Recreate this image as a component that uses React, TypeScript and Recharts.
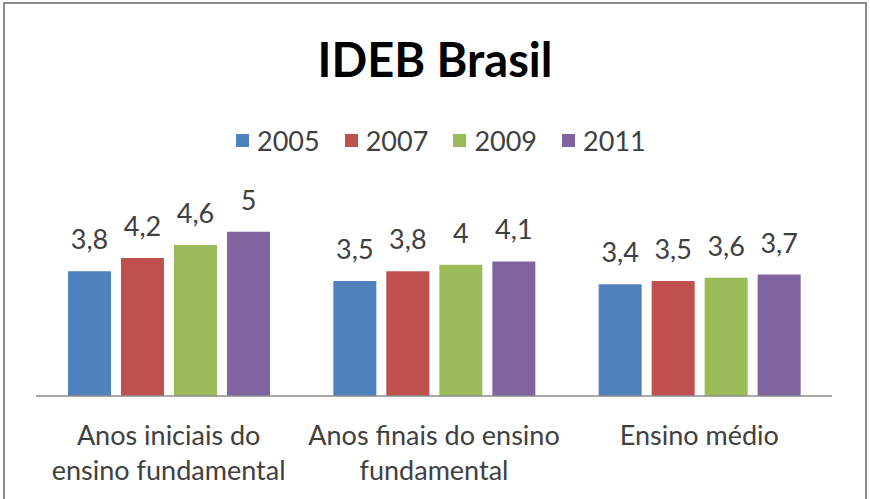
import React from "react";
import { BarChart, Bar, XAxis, YAxis, LabelList, Legend } from "recharts";

const categories = ["Anos iniciais do ensino fundamental", "Anos finais do ensino fundamental", "Ensino médio"];
const categoryLines = [
  ["Anos iniciais do", "ensino fundamental"],
  ["Anos finais do ensino", "fundamental"],
  ["Ensino médio"],
];
const years = ["2005", "2007", "2009", "2011"];
const v2005 = [3.8, 3.5, 3.4];
const v2007 = [4.2, 3.8, 3.5];
const v2009 = [4.6, 4.0, 3.6];
const v2011 = [5.0, 4.1, 3.7];
const colors = ["#4F81BD", "#C0504D", "#9BBB59", "#8064A2"];

const series = [v2005, v2007, v2009, v2011];
const data = categories.map((c, i) => {
  const row: any = { name: c, idx: i };
  years.forEach((y, j) => (row[y] = series[j][i]));
  return row;
});

const FONT = "Lato, 'Open Sans', sans-serif";
const FS = 27;

const Tick = (props: any) => {
  const { x, y, payload } = props;
  const lines = categoryLines[payload.index] || [payload.value];
  return (
    <g>
      {lines.map((l: string, k: number) => (
        <text key={k} x={x} y={y + 30 + k * 35} textAnchor="middle" dominantBaseline="central" fill="#404040" fontSize={FS} fontFamily={FONT}>
          {l}
        </text>
      ))}
    </g>
  );
};

const LegendContent = () => (
  <div style={{ position: "relative", width: 870, height: 30 }}>
    {years.map((y, j) => (
      <div key={y} style={{ position: "absolute", left: 236 + j * 108.7, top: 0, height: 30, display: "flex", alignItems: "center", fontFamily: FONT, fontSize: FS, color: "#404040" }}>
        <span style={{ display: "inline-block", width: 13, height: 13, background: colors[j], marginRight: 8 }} />
        <span>{y}</span>
      </div>
    ))}
  </div>
);

const fmt = (v: any) => String(v).replace(".", ",");

export default function App() {
  return (
    <div style={{ position: "absolute", left: 0, top: 0, width: 870, height: 499, background: "#fff", overflow: "hidden" }}>
      <div style={{ position: "absolute", left: 3, top: 2, width: 860, height: 520, border: "2px solid #8c8c8c" }} />
      <div style={{ position: "absolute", left: 0, top: 31, width: 870, textAlign: "center", fontFamily: FONT, fontWeight: 700, fontSize: 47, color: "#000" }}>
        IDEB Brasil
      </div>
      <div style={{ position: "absolute", left: 0, top: 0 }}>
        <BarChart width={870} height={499} data={data} margin={{ top: 169, right: 38, bottom: 73, left: 36 }} barGap={10} barSize={43}>
          <XAxis dataKey="name" axisLine={{ stroke: "#8c8c8c", strokeWidth: 1.5 }} tickLine={false} tick={<Tick />} interval={0} />
          <YAxis hide domain={[0, 6]} />
          <Legend verticalAlign="top" align="left" wrapperStyle={{ top: 125, left: 0 }} content={<LegendContent />} />
          {years.map((y, j) => (
            <Bar key={y} dataKey={y} fill={colors[j]} isAnimationActive={false}>
              <LabelList dataKey={y} position="top" offset={22} formatter={fmt} fill="#404040" fontSize={FS} fontFamily={FONT} />
            </Bar>
          ))}
        </BarChart>
      </div>
    </div>
  );
}
